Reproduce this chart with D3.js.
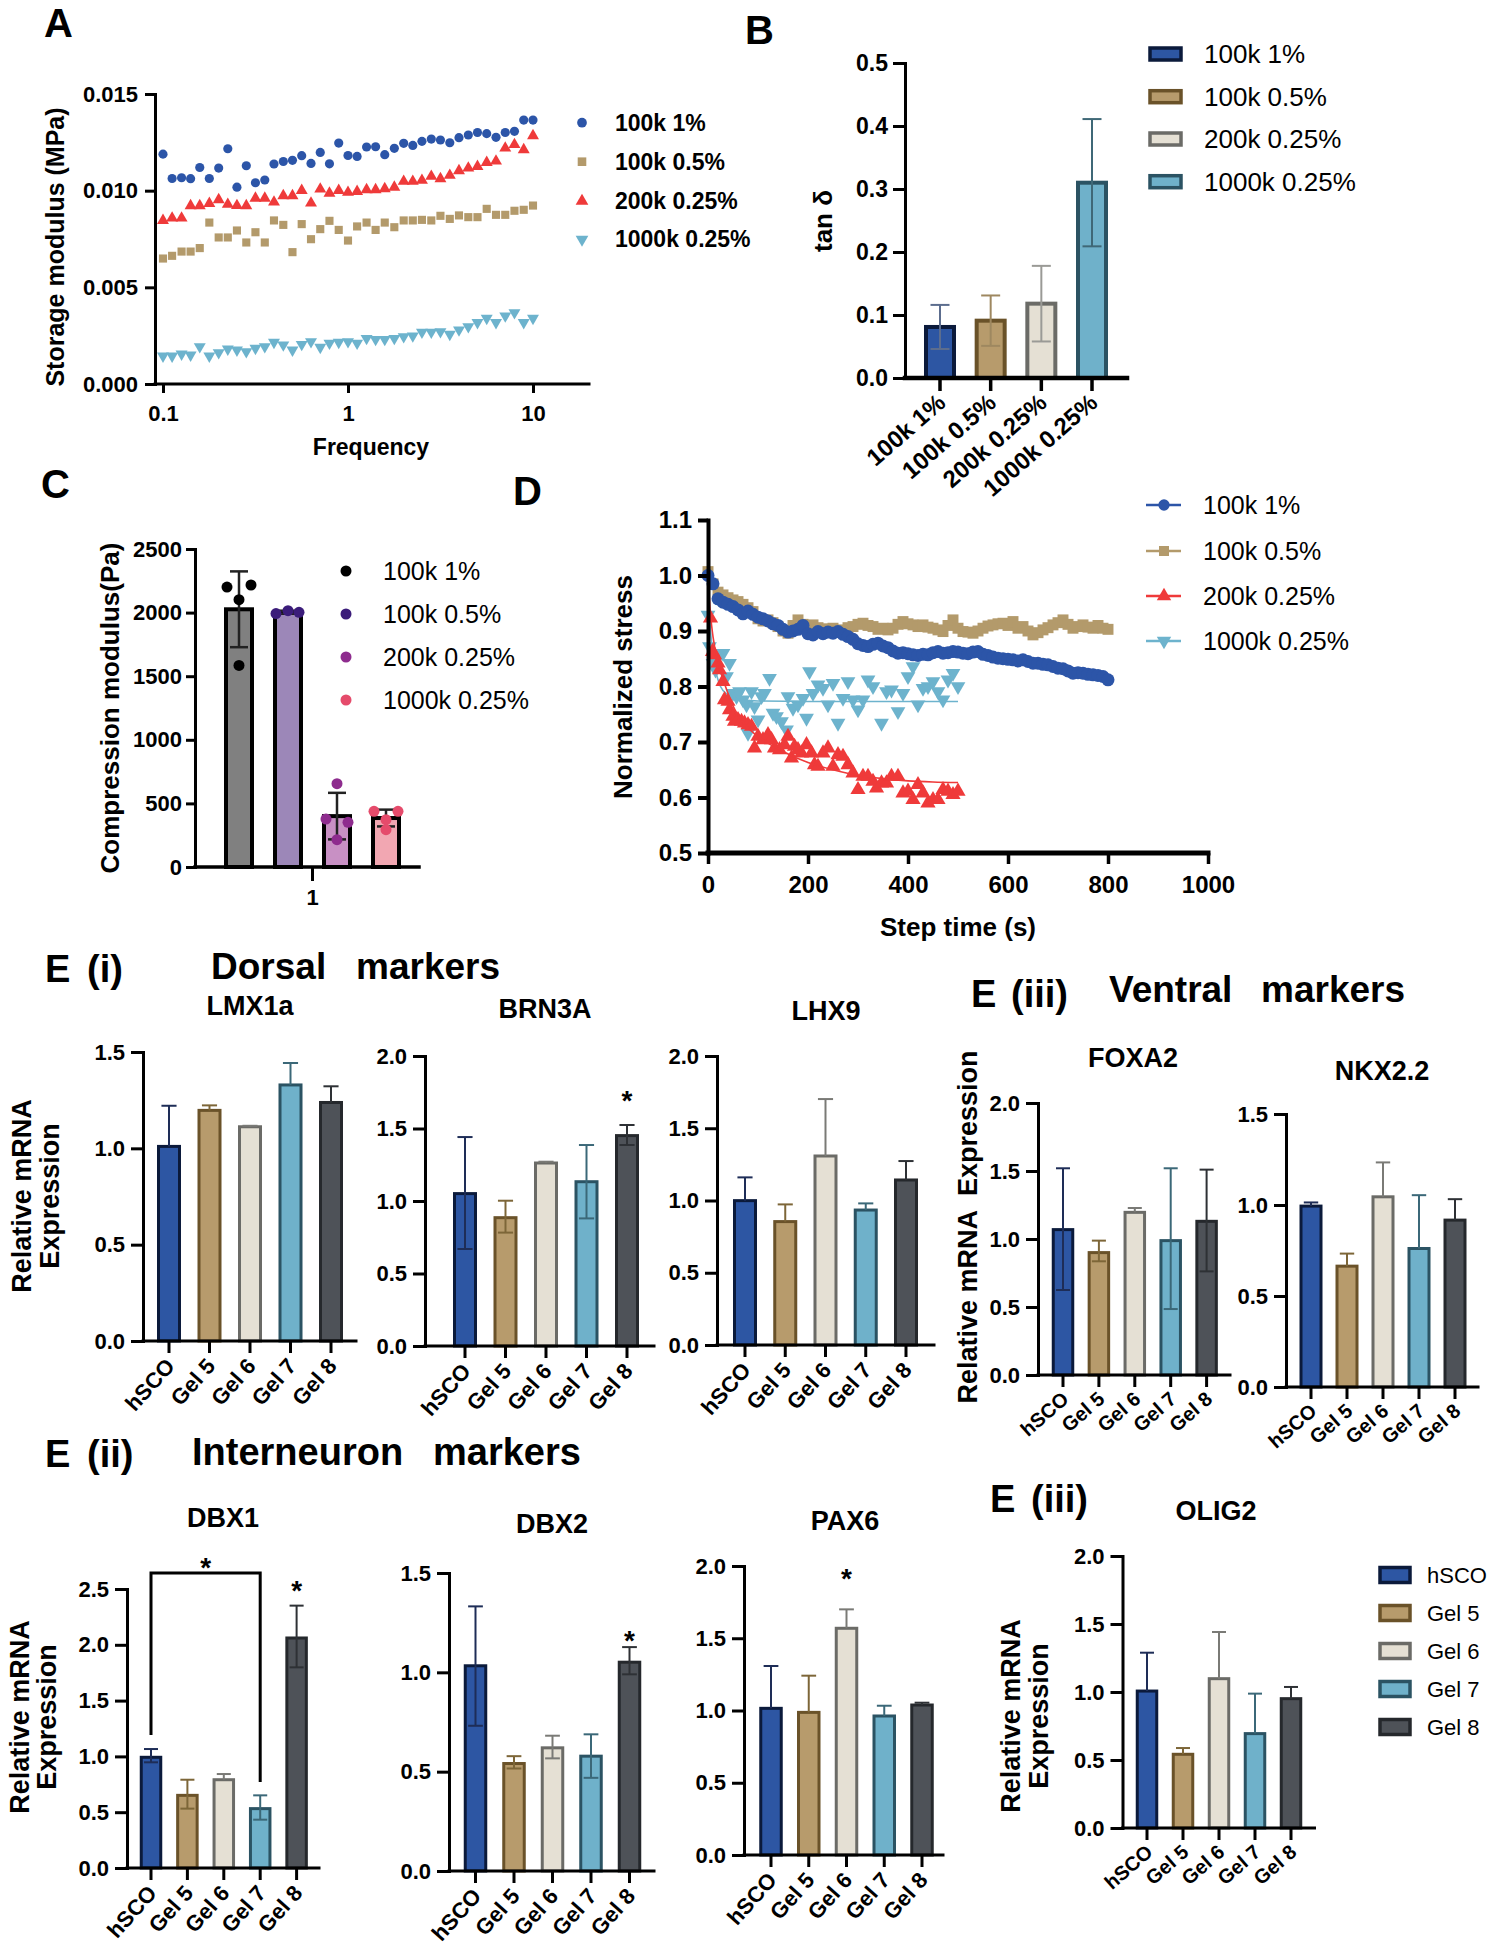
<!DOCTYPE html>
<html><head><meta charset="utf-8">
<script src="https://cdn.jsdelivr.net/npm/d3@7"></script>
<style>
body{margin:0;background:#fff}
svg{display:block}
text{font-family:'Liberation Sans',Arial,Helvetica,sans-serif}
</style>
</head><body>
<svg id="fig" width="1493" height="1950"></svg>
<script>
// ===================== DATA =====================
// Panel A: frequency sweep (Hz) and storage modulus (MPa)
const freqHz = [0.1,0.112,0.126,0.141,0.158,0.178,0.2,0.224,0.251,0.282,0.316,0.355,0.398,0.447,0.501,0.562,0.631,0.708,0.794,0.891,1,1.12,1.26,1.41,1.58,1.78,2,2.24,2.51,2.82,3.16,3.55,3.98,4.47,5.01,5.62,6.31,7.08,7.94,8.91,10];
const A_100k_1pct = [0.01189,0.01063,0.01067,0.01062,0.0112,0.01063,0.01117,0.01217,0.01018,0.01129,0.01041,0.01055,0.01138,0.01151,0.01157,0.01181,0.01141,0.01198,0.01139,0.01246,0.01182,0.01177,0.01226,0.01227,0.01186,0.01219,0.01245,0.01234,0.01255,0.01267,0.01262,0.01248,0.01274,0.01288,0.01301,0.01295,0.01276,0.01301,0.01307,0.01365,0.01365];
const A_100k_05pct = [0.00649,0.00663,0.00685,0.00685,0.00703,0.00835,0.00758,0.00758,0.00794,0.00732,0.00785,0.00732,0.00846,0.00823,0.00682,0.00827,0.00749,0.00801,0.00844,0.00797,0.00742,0.00815,0.00835,0.00797,0.00835,0.00811,0.00846,0.00846,0.00849,0.00846,0.0087,0.00854,0.00872,0.00863,0.00863,0.00906,0.00875,0.00875,0.00896,0.00901,0.00923];
const A_200k_025pct = [0.00846,0.00858,0.00858,0.00922,0.00922,0.00934,0.00953,0.00929,0.00923,0.00922,0.00961,0.00961,0.00941,0.00974,0.00974,0.01001,0.00936,0.01008,0.00987,0.01001,0.00991,0.00996,0.01005,0.01005,0.0101,0.01018,0.01048,0.01048,0.01053,0.01074,0.01062,0.01079,0.01103,0.01117,0.01125,0.01146,0.01153,0.0122,0.01238,0.01212,0.01284];
const A_1000k_025pct = [0.00145,0.00145,0.00155,0.0015,0.00193,0.00145,0.00162,0.00181,0.00176,0.00167,0.00185,0.00193,0.00216,0.00202,0.00176,0.00205,0.00219,0.0019,0.00211,0.00216,0.00219,0.00211,0.00236,0.00231,0.00231,0.00236,0.00245,0.00249,0.00268,0.00268,0.00271,0.00257,0.0028,0.00297,0.00318,0.0034,0.00318,0.00352,0.00369,0.00318,0.0034];
const A_xTicks = [0.1,1,10];
const A_yTicks = [0,0.005,0.01,0.015];

// Panel B: tan delta
const gelTypes = ["100k 1%","100k 0.5%","200k 0.25%","1000k 0.25%"];
const B_mean = [0.081,0.091,0.118,0.310];
const B_sd = [0.035,0.040,0.060,0.101];
const B_yTicks = [0,0.1,0.2,0.3,0.4,0.5];

// Panel C: compression modulus (Pa)
const C_mean = [2026,2003,400,385];
const C_sd = [298,12,183,66];
const C_points = [[2201,2217,2102,1585],[1992,2015,2002],[655,377,351,215],[438,438,372,293]];
const C_yTicks = [0,500,1000,1500,2000,2500];

// Panel D: stress relaxation
const D_time = [0,10,20,30,40,50,60,70,80,90,100,110,120,130,140,150,160,170,180,190,200,210,220,230,240,250,260,270,280,290,300,310,320,330,340,350,360,370,380,390,400,410,420,430,440,450,460,470,480,490,500,510,520,530,540,550,560,570,580,590,600,610,620,630,640,650,660,670,680,690,700,710,720,730,740,750,760,770,780,790,800];
const D_100k_1pct = [1.0,0.985,0.958,0.952,0.948,0.944,0.938,0.931,0.936,0.93,0.925,0.922,0.918,0.913,0.91,0.903,0.898,0.9,0.903,0.91,0.895,0.893,0.899,0.895,0.898,0.896,0.899,0.894,0.89,0.885,0.877,0.874,0.872,0.876,0.878,0.873,0.87,0.864,0.86,0.861,0.859,0.857,0.856,0.858,0.857,0.861,0.863,0.86,0.861,0.863,0.862,0.86,0.859,0.862,0.863,0.858,0.856,0.853,0.851,0.85,0.849,0.848,0.846,0.848,0.845,0.842,0.842,0.84,0.839,0.836,0.833,0.832,0.828,0.824,0.825,0.824,0.822,0.821,0.82,0.818,0.812];
const D_100k_05pct = [1.007,0.985,0.97,0.965,0.96,0.956,0.953,0.948,0.942,0.935,0.922,0.918,0.92,0.915,0.908,0.9,0.896,0.91,0.92,0.912,0.905,0.911,0.906,0.902,0.904,0.905,0.9,0.902,0.906,0.908,0.912,0.914,0.91,0.908,0.903,0.905,0.902,0.905,0.912,0.917,0.913,0.911,0.908,0.911,0.907,0.905,0.902,0.899,0.91,0.92,0.905,0.899,0.898,0.896,0.9,0.905,0.909,0.911,0.913,0.914,0.91,0.917,0.905,0.908,0.9,0.893,0.897,0.902,0.906,0.911,0.915,0.92,0.912,0.905,0.908,0.911,0.907,0.905,0.91,0.905,0.903];
const D_200k_time = [5,9,13,20,23,30,33,40,43,50,53,60,67,73,80,87,93,100,110,120,127,133,143,153,160,167,173,180,187,197,207,213,220,230,240,250,260,270,280,290,300,310,320,330,337,347,357,367,380,390,400,410,420,430,440,450,460,470,480,490,500];
const D_200k_025pct = [0.923,0.863,0.857,0.842,0.83,0.809,0.776,0.773,0.758,0.746,0.737,0.74,0.737,0.734,0.731,0.728,0.689,0.71,0.704,0.713,0.704,0.689,0.686,0.695,0.71,0.671,0.692,0.686,0.68,0.695,0.68,0.659,0.656,0.68,0.689,0.656,0.677,0.674,0.659,0.644,0.614,0.638,0.638,0.629,0.617,0.626,0.626,0.638,0.638,0.608,0.611,0.596,0.623,0.608,0.59,0.596,0.596,0.614,0.611,0.605,0.611];
const D_1000k_time = [0,3,10,15,23,30,37,43,50,57,63,70,77,80,87,93,100,107,113,123,130,137,147,157,160,170,180,190,197,203,210,220,230,240,250,260,270,280,290,300,310,320,330,347,357,367,380,390,400,410,420,430,440,450,460,470,480,490,500];
const D_1000k_025pct = [0.929,0.872,0.842,0.83,0.857,0.86,0.818,0.842,0.788,0.782,0.791,0.776,0.767,0.716,0.791,0.764,0.74,0.782,0.788,0.815,0.752,0.746,0.737,0.722,0.782,0.761,0.767,0.779,0.743,0.827,0.788,0.803,0.797,0.767,0.806,0.734,0.779,0.809,0.776,0.758,0.776,0.812,0.8,0.734,0.791,0.794,0.755,0.788,0.818,0.836,0.767,0.797,0.8,0.809,0.791,0.776,0.812,0.824,0.8];
const D_fit200k_time = [0,5,10,20,35,50,75,100,150,200,250,300,350,400,450,500];
const D_fit200k = [1.0,0.93,0.89,0.845,0.80,0.765,0.73,0.71,0.683,0.663,0.65,0.64,0.634,0.63,0.628,0.627];
const D_fit1000k_time = [0,3,6,10,15,25,40,60,100,200,300,400,500];
const D_fit1000k = [1.0,0.93,0.89,0.855,0.83,0.80,0.785,0.777,0.774,0.773,0.773,0.773,0.773];
const D_xTicks = [0,200,400,600,800,1000];
const D_yTicks = [0.5,0.6,0.7,0.8,0.9,1.0,1.1];

// Panel E: relative mRNA expression
const groups = ["hSCO","Gel 5","Gel 6","Gel 7","Gel 8"];
const LMX1a_mean = [1.01,1.197,1.112,1.329,1.238];
const LMX1a_hi = [1.221,1.223,1.117,1.443,1.322];
const LMX1a_lo = [null,null,null,null,null];
const BRN3A_mean = [1.051,0.885,1.262,1.133,1.451];
const BRN3A_hi = [1.441,1.002,1.271,1.386,1.524];
const BRN3A_lo = [0.669,0.782,null,0.880,1.386];
const LHX9_mean = [0.999,0.854,1.308,0.934,1.142];
const LHX9_hi = [1.160,0.973,1.702,0.980,1.273];
const LHX9_lo = [null,null,null,null,null];
const FOXA2_mean = [1.069,0.900,1.196,0.988,1.130];
const FOXA2_hi = [1.520,0.988,1.228,1.520,1.510];
const FOXA2_lo = [0.625,0.836,null,0.485,0.762];
const NKX22_mean = [0.994,0.664,1.045,0.761,0.917];
const NKX22_hi = [1.014,0.733,1.234,1.054,1.032];
const NKX22_lo = [null,null,null,null,null];
const DBX1_mean = [0.992,0.651,0.791,0.532,2.061];
const DBX1_hi = [1.066,0.791,0.842,0.651,2.351];
const DBX1_lo = [0.947,0.532,null,0.433,1.798];
const DBX2_mean = [1.033,0.541,0.620,0.578,1.051];
const DBX2_hi = [1.332,0.578,0.681,0.688,1.127];
const DBX2_lo = [0.731,0.516,0.567,0.469,0.990];
const PAX6_mean = [1.015,0.987,1.569,0.962,1.038];
const PAX6_hi = [1.308,1.241,1.700,1.033,1.054];
const PAX6_lo = [null,null,null,null,null];
const OLIG2_mean = [1.007,0.542,1.098,0.694,0.951];
const OLIG2_hi = [1.289,0.588,1.441,0.988,1.037];
const OLIG2_lo = [null,null,null,null,null];

// ===================== STYLE =====================
const FF = "'Liberation Sans', Arial, Helvetica, sans-serif";
const serColors = {blue:"#2c55a8", tan:"#b39a6b", red:"#ef3a3a", cyan:"#6db3cd"};
const gFill = ["#2d56a3","#b79b6c","#e5e0d4","#6fb1ca","#4e5258"];
const gStroke = ["#0b1a3b","#6a5229","#6b6b67","#2b5363","#25282c"];
const gErr = ["#1e2d57","#7d6638","#7a7a76","#3b6878","#2e3135"];
const bErr = ["#5c6d8e","#9e8860","#9a9a96","#3f6877"];

const svg = d3.select("#fig");
svg.append("rect").attr("width",1493).attr("height",1950).attr("fill","#fff");

function txt(x, y, s, size, o = {}) {
  const t = svg.append("text").attr("x", x).attr("y", y).text(s)
    .attr("font-size", size).attr("font-weight", o.weight || "bold")
    .attr("text-anchor", o.anchor || "start").attr("fill", o.fill || "#000")
    .attr("font-family", FF);
  if (o.rotate) t.attr("transform", `rotate(${o.rotate},${x},${y})`);
  return t;
}
function styleAxis(g, sw, fs) {
  g.attr("font-family", FF);
  g.select(".domain").attr("stroke", "#000").attr("stroke-width", sw).attr("stroke-linecap","square");
  g.selectAll(".tick line").attr("stroke", "#000").attr("stroke-width", sw);
  g.selectAll(".tick text").attr("font-size", fs).attr("font-weight", "bold").attr("fill", "#000");
}
function hline(g, x1, x2, y, sw) {
  g.append("line").attr("x1", x1).attr("x2", x2).attr("y1", y).attr("y2", y)
    .attr("stroke", "#000").attr("stroke-width", sw).attr("stroke-linecap","square");
}

// ===================== PANEL LETTERS =====================
txt(44, 37, "A", 40);
txt(745, 44, "B", 40);
txt(41, 498, "C", 40);
txt(513, 505, "D", 40);

// ===================== PANEL A =====================
(function(){
  const g = svg.append("g");
  const x = d3.scaleLog().domain([0.1, 10]).range([163, 533]);
  const y = d3.scaleLinear().domain([0, 0.015]).range([384, 94]);
  const series = [
    {name:"100k 1%", vals:A_100k_1pct, sym:d3.symbolCircle, color:serColors.blue, size:66, rot:0},
    {name:"100k 0.5%", vals:A_100k_05pct, sym:d3.symbolSquare, color:serColors.tan, size:66, rot:0},
    {name:"200k 0.25%", vals:A_200k_025pct, sym:d3.symbolTriangle, color:serColors.red, size:62, rot:0},
    {name:"1000k 0.25%", vals:A_1000k_025pct, sym:d3.symbolTriangle, color:serColors.cyan, size:62, rot:180}
  ];
  series.forEach(s => {
    g.selectAll(null).data(s.vals).join("path")
      .attr("d", d3.symbol(s.sym, s.size))
      .attr("transform", (d, i) => `translate(${x(freqHz[i])},${y(d)}) rotate(${s.rot})`)
      .attr("fill", s.color);
  });
  const ay = g.append("g").attr("transform", "translate(155,0)")
    .call(d3.axisLeft(y).tickValues(A_yTicks).tickFormat(d3.format(".3f")).tickSize(10).tickSizeOuter(0).tickPadding(7));
  styleAxis(ay, 3, 22);
  hline(g, 155, 589, 384, 3);
  const ax = g.append("g").attr("transform", "translate(0,384)")
    .call(d3.axisBottom(x).tickValues(A_xTicks).tickFormat(d => String(d)).tickSize(9).tickSizeOuter(0).tickPadding(12));
  ax.select(".domain").remove();
  styleAxis(ax, 3, 22);
  txt(371, 455, "Frequency", 23, {anchor:"middle"});
  txt(64, 247, "Storage modulus (MPa)", 25, {anchor:"middle", rotate:-90});
  // legend
  const rows = [122.7, 161.7, 201, 239.3];
  series.forEach((s, i) => {
    g.append("path").attr("d", d3.symbol(s.sym, s.size + 8))
      .attr("transform", `translate(582,${rows[i]}) rotate(${s.rot})`).attr("fill", s.color);
    txt(615, rows[i] + 8, s.name, 23);
  });
})();

// ===================== PANEL B =====================
(function(){
  const g = svg.append("g");
  const y = d3.scaleLinear().domain([0, 0.5]).range([378, 63]);
  const x = d3.scalePoint().domain(gelTypes).range([940, 1092]);
  const bw = 28;
  gelTypes.forEach((k, i) => {
    g.append("rect").attr("x", x(k) - bw/2).attr("y", y(B_mean[i]))
      .attr("width", bw).attr("height", y(0) - y(B_mean[i]))
      .attr("fill", gFill[i]).attr("stroke", gStroke[i]).attr("stroke-width", 4);
  });
  gelTypes.forEach((k, i) => {
    const lo = y(B_mean[i] - B_sd[i]), hi = y(B_mean[i] + B_sd[i]), cx = x(k);
    g.append("line").attr("x1", cx).attr("x2", cx).attr("y1", lo).attr("y2", hi).attr("stroke", bErr[i]).attr("stroke-width", 2);
    [lo, hi].forEach(v => g.append("line").attr("x1", cx - 9.5).attr("x2", cx + 9.5).attr("y1", v).attr("y2", v).attr("stroke", bErr[i]).attr("stroke-width", 2));
  });
  const ay = g.append("g").attr("transform", "translate(905,0)")
    .call(d3.axisLeft(y).tickValues(B_yTicks).tickFormat(d3.format(".1f")).tickSize(12).tickSizeOuter(0).tickPadding(5));
  styleAxis(ay, 3, 23);
  hline(g, 905, 1127, 378, 4.5);
  gelTypes.forEach(k => {
    g.append("line").attr("x1", x(k)).attr("x2", x(k)).attr("y1", 378).attr("y2", 391).attr("stroke", "#000").attr("stroke-width", 3.5);
    g.append("text").text(k).attr("transform", `translate(${x(k) + 7},${378 + 27}) rotate(-41)`)
      .attr("text-anchor", "end").attr("font-size", 24).attr("font-weight", "bold").attr("font-family", FF);
  });
  txt(832, 221, "tan δ", 26, {anchor:"middle", rotate:-90});
  const rows = [54, 96.7, 139, 181.7];
  gelTypes.forEach((k, i) => {
    g.append("rect").attr("x", 1150).attr("y", rows[i] - 6).attr("width", 31).attr("height", 12)
      .attr("fill", gFill[i]).attr("stroke", gStroke[i]).attr("stroke-width", 3.5);
    txt(1204, rows[i] + 9, k, 26, {weight:"normal"});
  });
})();

// ===================== PANEL C =====================
(function(){
  const g = svg.append("g");
  const y = d3.scaleLinear().domain([0, 2500]).range([867, 549]);
  const x = d3.scalePoint().domain(gelTypes).range([239, 386]);
  const fills = ["#808080","#9c87b8","#c890c4","#f2a7b2"];
  const dots = ["#000000","#3b1c7a","#8e2c8e","#e54b6b"];
  const jitter = [[-12,12,0,0],[-12,0,11],[0,-11,11,0],[-12,12,0,0]];
  const bw = 26;
  gelTypes.forEach((k, i) => {
    g.append("rect").attr("x", x(k) - bw/2).attr("y", y(C_mean[i]))
      .attr("width", bw).attr("height", y(0) - y(C_mean[i]))
      .attr("fill", fills[i]).attr("stroke", "#000").attr("stroke-width", 4);
  });
  gelTypes.forEach((k, i) => {
    const lo = y(C_mean[i] - C_sd[i]), hi = y(C_mean[i] + C_sd[i]), cx = x(k);
    g.append("line").attr("x1", cx).attr("x2", cx).attr("y1", lo).attr("y2", hi).attr("stroke", "#222").attr("stroke-width", 2.5);
    [lo, hi].forEach(v => g.append("line").attr("x1", cx - 9).attr("x2", cx + 9).attr("y1", v).attr("y2", v).attr("stroke", "#222").attr("stroke-width", 2.5));
  });
  gelTypes.forEach((k, i) => {
    g.selectAll(null).data(C_points[i]).join("circle")
      .attr("cx", (d, j) => x(k) + jitter[i][j]).attr("cy", d => y(d)).attr("r", 5.5).attr("fill", dots[i]);
  });
  const ay = g.append("g").attr("transform", "translate(195,0)")
    .call(d3.axisLeft(y).tickValues(C_yTicks).tickFormat(d3.format("d")).tickSize(9).tickSizeOuter(0).tickPadding(4));
  styleAxis(ay, 3, 22);
  hline(g, 195, 419, 867, 3.5);
  g.append("line").attr("x1", 312.5).attr("x2", 312.5).attr("y1", 867).attr("y2", 881).attr("stroke", "#000").attr("stroke-width", 3);
  txt(312.5, 905, "1", 22, {anchor:"middle"});
  txt(119, 708, "Compression modulus(Pa)", 26, {anchor:"middle", rotate:-90});
  const rows = [571, 614, 657, 700];
  gelTypes.forEach((k, i) => {
    g.append("circle").attr("cx", 346).attr("cy", rows[i]).attr("r", 5.5).attr("fill", dots[i]);
    txt(383, rows[i] + 9, k, 25, {weight:"normal"});
  });
})();

// ===================== PANEL D =====================
(function(){
  const g = svg.append("g");
  const x = d3.scaleLinear().domain([0, 1000]).range([708, 1208]);
  const y = d3.scaleLinear().domain([0.5, 1.1]).range([853, 520]);
  const line = d3.line().x(d => x(d[0])).y(d => y(d[1])).curve(d3.curveMonotoneX);
  const sym = (t, s) => d3.symbol(t, s)();
  // cyan
  g.selectAll(null).data(D_1000k_025pct).join("path").attr("d", sym(d3.symbolTriangle, 95))
    .attr("transform", (d, i) => `translate(${x(D_1000k_time[i])},${y(d)}) rotate(180)`).attr("fill", serColors.cyan);
  g.append("path").attr("d", line(D_fit1000k_time.map((t, i) => [t, D_fit1000k[i]])))
    .attr("fill", "none").attr("stroke", serColors.cyan).attr("stroke-width", 1.6);
  // red
  g.selectAll(null).data(D_200k_025pct).join("path").attr("d", sym(d3.symbolTriangle, 100))
    .attr("transform", (d, i) => `translate(${x(D_200k_time[i])},${y(d)})`).attr("fill", serColors.red);
  g.append("path").attr("d", line(D_fit200k_time.map((t, i) => [t, D_fit200k[i]])))
    .attr("fill", "none").attr("stroke", serColors.red).attr("stroke-width", 1.6);
  // tan
  g.selectAll(null).data(D_100k_05pct).join("path").attr("d", sym(d3.symbolSquare, 120))
    .attr("transform", (d, i) => `translate(${x(D_time[i])},${y(d)})`).attr("fill", serColors.tan);
  // blue
  g.selectAll(null).data(D_100k_1pct).join("circle")
    .attr("cx", (d, i) => x(D_time[i])).attr("cy", d => y(d)).attr("r", 6.5).attr("fill", serColors.blue);

  const ay = g.append("g").attr("transform", "translate(708,0)")
    .call(d3.axisLeft(y).tickValues(D_yTicks).tickFormat(d3.format(".1f")).tickSize(10).tickSizeOuter(0).tickPadding(6));
  styleAxis(ay, 4, 24);
  hline(g, 708, 1208, 853, 5);
  const ax = g.append("g").attr("transform", "translate(0,853)")
    .call(d3.axisBottom(x).tickValues(D_xTicks).tickFormat(d3.format("d")).tickSize(11).tickSizeOuter(0).tickPadding(12));
  ax.select(".domain").remove();
  styleAxis(ax, 3.5, 24);
  txt(958, 936, "Step time (s)", 26, {anchor:"middle"});
  txt(632, 687, "Normalized stress", 26, {anchor:"middle", rotate:-90});
  // legend
  const rows = [505, 551, 596, 641];
  const leg = [
    {n:"100k 1%", c:serColors.blue, s:d3.symbolCircle, sz:100, r:0},
    {n:"100k 0.5%", c:serColors.tan, s:d3.symbolSquare, sz:100, r:0},
    {n:"200k 0.25%", c:serColors.red, s:d3.symbolTriangle, sz:90, r:0},
    {n:"1000k 0.25%", c:serColors.cyan, s:d3.symbolTriangle, sz:90, r:180}
  ];
  leg.forEach((l, i) => {
    g.append("line").attr("x1", 1146).attr("x2", 1181).attr("y1", rows[i]).attr("y2", rows[i]).attr("stroke", l.c).attr("stroke-width", 2.5);
    g.append("path").attr("d", sym(l.s, l.sz)).attr("transform", `translate(1164,${rows[i]}) rotate(${l.r})`).attr("fill", l.c);
    txt(1203, rows[i] + 9, l.n, 25, {weight:"normal"});
  });
})();

// ===================== PANEL E =====================
function geneChart(o) {
  const g = svg.append("g");
  const y = d3.scaleLinear().domain([0, o.max]).range([o.y0, o.yTop]);
  const x = d3.scalePoint().domain(groups).range([o.c0, o.c0 + 4 * o.sp]);
  groups.forEach((k, i) => {
    g.append("rect").attr("x", x(k) - o.bw/2).attr("y", y(o.mean[i]))
      .attr("width", o.bw).attr("height", y(0) - y(o.mean[i]))
      .attr("fill", gFill[i]).attr("stroke", gStroke[i]).attr("stroke-width", 3);
  });
  const cap = o.bw * 0.36;
  groups.forEach((k, i) => {
    const cx = x(k), m = y(o.mean[i]);
    const ends = [y(o.hi[i])];
    if (o.lo[i] !== null) ends.push(y(o.lo[i]));
    ends.forEach(v => {
      g.append("line").attr("x1", cx).attr("x2", cx).attr("y1", m).attr("y2", v).attr("stroke", gErr[i]).attr("stroke-width", 2);
      g.append("line").attr("x1", cx - cap).attr("x2", cx + cap).attr("y1", v).attr("y2", v).attr("stroke", gErr[i]).attr("stroke-width", 2);
    });
  });
  const ticks = d3.range(0, o.max + 0.001, 0.5);
  const ay = g.append("g").attr("transform", `translate(${o.ax},0)`)
    .call(d3.axisLeft(y).tickValues(ticks).tickFormat(d3.format(".1f")).tickSize(12).tickSizeOuter(0).tickPadding(6));
  styleAxis(ay, 3, o.tfs || 22);
  hline(g, o.ax, o.xEnd, o.y0, 3);
  groups.forEach(k => {
    g.append("line").attr("x1", x(k)).attr("x2", x(k)).attr("y1", o.y0).attr("y2", o.y0 + 12).attr("stroke", "#000").attr("stroke-width", 3);
    g.append("text").text(k).attr("transform", `translate(${x(k) + 7},${o.y0 + 26}) rotate(${o.rot || -45})`)
      .attr("text-anchor", "end").attr("font-size", o.lfs || 22).attr("font-weight", "bold").attr("font-family", FF);
  });
  txt(o.tx, o.ty, o.title, 27, {anchor:"middle"});
  (o.stars || []).forEach(s => {
    txt(x(groups[s.i]), y(s.v) + 15, "*", 28, {anchor:"middle"});
  });
  if (o.bracket) {
    const b = o.bracket;
    const xa = x(groups[b.from]), xb = x(groups[b.to]);
    g.append("path").attr("d", `M${xa},${y(b.leftEnd)}V${y(b.top)}H${xb}V${y(b.rightEnd)}`)
      .attr("fill", "none").attr("stroke", "#000").attr("stroke-width", 3);
    txt((xa + xb) / 2, y(b.starV) + 15, "*", 28, {anchor:"middle"});
  }
  return g;
}

// E (i)
txt(45, 982, "E", 38); txt(87, 982, "(i)", 38);
txt(211, 979, "Dorsal", 37); txt(356, 979, "markers", 37);
geneChart({title:"LMX1a", tx:250, ty:1015, ax:143, y0:1341, yTop:1052, max:1.5, xEnd:356, c0:169, sp:40.5, bw:21, rot:-48, mean:LMX1a_mean, hi:LMX1a_hi, lo:LMX1a_lo});
geneChart({title:"BRN3A", tx:545, ty:1018, ax:425, y0:1346, yTop:1056, max:2.0, xEnd:654, c0:465, sp:40.5, bw:21, rot:-48, mean:BRN3A_mean, hi:BRN3A_hi, lo:BRN3A_lo, stars:[{i:4, v:1.73}]});
geneChart({title:"LHX9", tx:826, ty:1020, ax:717, y0:1345, yTop:1056, max:2.0, xEnd:934, c0:745, sp:40.25, bw:21, rot:-48, mean:LHX9_mean, hi:LHX9_hi, lo:LHX9_lo});
txt(31, 1196, "Relative mRNA", 27, {anchor:"middle", rotate:-90});
txt(59, 1196, "Expression", 27, {anchor:"middle", rotate:-90});

// E (iii) ventral
txt(971, 1007, "E", 38); txt(1011, 1007, "(iii)", 38);
txt(1109, 1002, "Ventral", 37); txt(1261, 1002, "markers", 37);
geneChart({title:"FOXA2", tx:1133, ty:1067, ax:1038, y0:1375, yTop:1103, max:2.0, xEnd:1230, c0:1063, sp:35.9, bw:19.5, lfs:20, rot:-41, mean:FOXA2_mean, hi:FOXA2_hi, lo:FOXA2_lo});
geneChart({title:"NKX2.2", tx:1382, ty:1080, ax:1286, y0:1387, yTop:1114, max:1.5, xEnd:1478, c0:1311, sp:36, bw:20, lfs:20, rot:-41, mean:NKX22_mean, hi:NKX22_hi, lo:NKX22_lo});
txt(977, 1227, "Relative mRNA  Expression", 27, {anchor:"middle", rotate:-90}).attr("xml:space","preserve").style("white-space","pre");

// E (ii)
txt(45, 1467, "E", 38); txt(87, 1467, "(ii)", 38);
txt(192, 1465, "Interneuron", 38); txt(433, 1465, "markers", 38);
geneChart({title:"DBX1", tx:223, ty:1527, ax:127, y0:1868, yTop:1589, max:2.5, xEnd:319, c0:151, sp:36.4, bw:19.5, rot:-48, mean:DBX1_mean, hi:DBX1_hi, lo:DBX1_lo,
  stars:[{i:4, v:2.536}], bracket:{from:0, to:3, leftEnd:1.192, top:2.643, rightEnd:0.771, starV:2.742}});
geneChart({title:"DBX2", tx:552, ty:1533, ax:449, y0:1871, yTop:1573, max:1.5, xEnd:654, c0:475.5, sp:38.5, bw:20.5, rot:-48, mean:DBX2_mean, hi:DBX2_hi, lo:DBX2_lo, stars:[{i:4, v:1.188}]});
geneChart({title:"PAX6", tx:845, ty:1530, ax:744, y0:1855, yTop:1566, max:2.0, xEnd:943, c0:771, sp:37.75, bw:20.5, rot:-48, mean:PAX6_mean, hi:PAX6_hi, lo:PAX6_lo, stars:[{i:2, v:1.951}]});
txt(29, 1717, "Relative mRNA", 27, {anchor:"middle", rotate:-90});
txt(56, 1717, "Expression", 27, {anchor:"middle", rotate:-90});

// E (iii) OLIG2
txt(990, 1512, "E", 38); txt(1031, 1512, "(iii)", 38);
geneChart({title:"OLIG2", tx:1216, ty:1520, ax:1122.5, y0:1828, yTop:1556, max:2.0, xEnd:1314.5, c0:1147, sp:36, bw:19.5, lfs:20, rot:-41, mean:OLIG2_mean, hi:OLIG2_hi, lo:OLIG2_lo});
txt(1020, 1716, "Relative mRNA", 27, {anchor:"middle", rotate:-90});
txt(1048, 1716, "Expression", 27, {anchor:"middle", rotate:-90});
// legend
(function(){
  const rows = [1575, 1613, 1651, 1689, 1727];
  groups.forEach((k, i) => {
    svg.append("rect").attr("x", 1380).attr("y", rows[i] - 7.5).attr("width", 30).attr("height", 15)
      .attr("fill", gFill[i]).attr("stroke", gStroke[i]).attr("stroke-width", 3.5);
    txt(1427, rows[i] + 8, k, 22, {weight:"normal"});
  });
})();
</script>
</body></html>
